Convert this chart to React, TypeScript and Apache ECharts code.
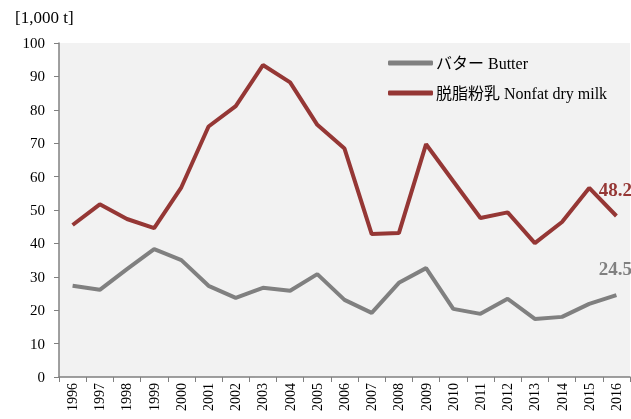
import React, { useEffect, useRef } from "react";
import * as echarts from "echarts";

const years = ["1996","1997","1998","1999","2000","2001","2002","2003","2004","2005","2006","2007","2008","2009","2010","2011","2012","2013","2014","2015","2016"];
const butter = [27.3, 26.1, 32.3, 38.3, 35.0, 27.3, 23.7, 26.7, 25.8, 30.8, 23.1, 19.2, 28.2, 32.6, 20.4, 18.9, 23.4, 17.4, 18.0, 21.9, 24.5];
const nonfat = [45.5, 51.7, 47.3, 44.6, 56.8, 75.0, 81.1, 93.4, 88.2, 75.5, 68.4, 42.8, 43.1, 69.7, 58.6, 47.6, 49.3, 40.1, 46.4, 56.6, 48.2];
const yTicks = { min: 0, max: 100, interval: 10 };
const unitLabel = "[1,000 t]";
const butterName = "バター Butter";
const nonfatName = "脱脂粉乳 Nonfat dry milk";

const FONT = "'Liberation Serif', 'Noto Sans CJK JP', serif";
const RED = "#953735";
const GRAY = "#808080";

function endLabel(color: string) {
  return {
    show: true,
    formatter: (p: any) => Number(p.value).toFixed(1),
    color,
    fontFamily: FONT,
    fontSize: 19,
    fontWeight: "bold",
    align: "center",
    verticalAlign: "middle",
    distance: 0,
    offset: [-1, -27],
  };
}

export default function App() {
  const ref = useRef<HTMLDivElement>(null);
  useEffect(() => {
    if (!ref.current) return;
    const chart = echarts.init(ref.current, null, { renderer: "svg" });
    chart.setOption({
      animation: false,
      textStyle: { fontFamily: FONT },
      title: {
        text: unitLabel,
        left: 10,
        top: 4,
        textStyle: { fontFamily: FONT, fontSize: 17, fontWeight: "normal", color: "#000" },
      },
      grid: {
        left: 59,
        right: 1,
        top: 43,
        bottom: 42,
        show: true,
        backgroundColor: "#f2f2f2",
        borderWidth: 0,
        containLabel: false,
      },
      legend: {
        orient: "vertical",
        left: 383,
        top: 50,
        itemWidth: 45,
        itemHeight: 5,
        itemGap: 14,
        icon: "roundRect",
        textStyle: { fontFamily: FONT, fontSize: 16, color: "#000", padding: [0, 0, 0, -2] },
        data: [butterName, nonfatName],
      },
      xAxis: {
        type: "category",
        data: years,
        boundaryGap: true,
        axisLine: { lineStyle: { color: GRAY, width: 1.5 } },
        axisTick: { show: true, alignWithLabel: false, length: 5, lineStyle: { color: GRAY } },
        axisLabel: { rotate: 90, color: "#000", fontFamily: FONT, fontSize: 14, margin: 6, interval: 0 },
        splitLine: { show: false },
      },
      yAxis: {
        type: "value",
        min: yTicks.min,
        max: yTicks.max,
        interval: yTicks.interval,
        axisLine: { show: true, lineStyle: { color: GRAY, width: 1.5 } },
        axisTick: { show: true, length: 5, lineStyle: { color: GRAY } },
        axisLabel: { color: "#000", fontFamily: FONT, fontSize: 15, margin: 14 },
        splitLine: { show: false },
      },
      series: [
        {
          name: butterName,
          type: "line",
          data: butter,
          showSymbol: false,
          symbol: "none",
          lineStyle: { color: GRAY, width: 4 },
          itemStyle: { color: GRAY },
          endLabel: endLabel(GRAY),
          z: 2,
        },
        {
          name: nonfatName,
          type: "line",
          data: nonfat,
          showSymbol: false,
          symbol: "none",
          lineStyle: { color: RED, width: 4 },
          itemStyle: { color: RED },
          endLabel: endLabel(RED),
          z: 3,
        },
      ],
    });
    return () => chart.dispose();
  }, []);
  return <div ref={ref} style={{ width: 631, height: 419, position: "fixed", left: 0, top: 0 }} />;
}
